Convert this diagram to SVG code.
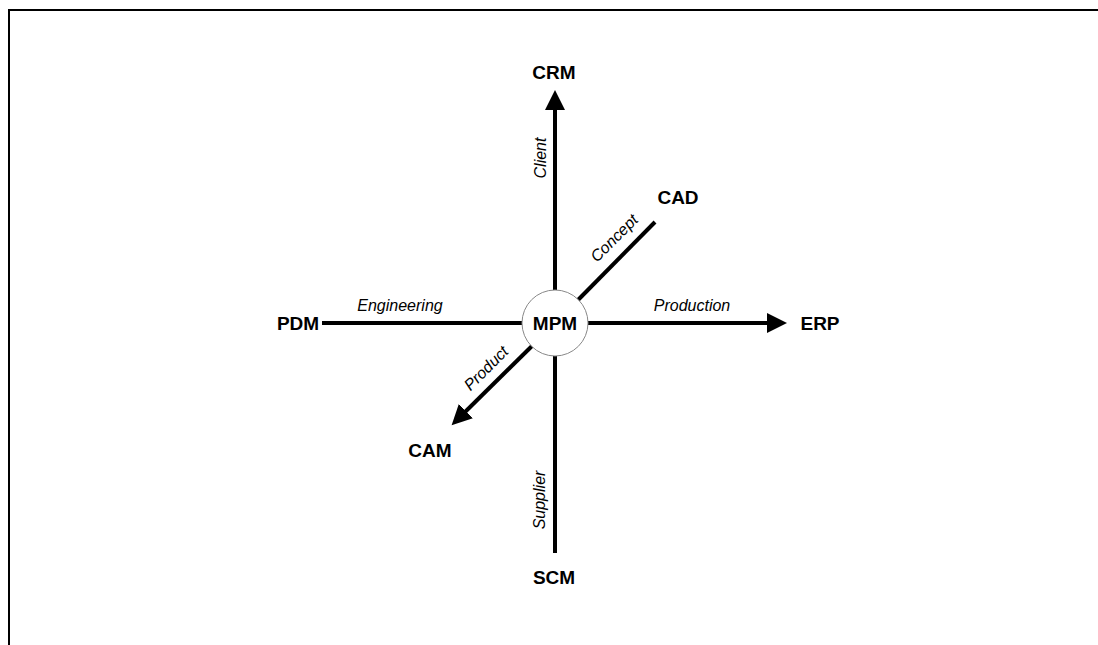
<svg xmlns="http://www.w3.org/2000/svg" width="1098" height="645" viewBox="0 0 1098 645">
  <style>
    .node { font-family: "Liberation Sans", Arial, sans-serif; font-weight: bold; font-size: 19px; fill: #000; text-anchor: middle; }
    .lbl { font-family: "Liberation Sans", Arial, sans-serif; font-style: italic; font-size: 16px; fill: #000; text-anchor: middle; }
    .axis { stroke: #000; stroke-width: 4; fill: none; }
  </style>
  <defs>
    <marker id="arrow" markerWidth="6" markerHeight="5" refX="1" refY="2.5" orient="auto" markerUnits="strokeWidth">
      <path d="M0,0 L5,2.5 L0,5 Z" fill="#000"/>
    </marker>
  </defs>
  <rect width="1098" height="645" fill="#fff"/>
  <!-- frame -->
  <path d="M9,645 V10 H1098" stroke="#000" stroke-width="2" fill="none"/>

  <g id="connectors">
    <line class="axis" x1="555" y1="290" x2="555" y2="106" marker-end="url(#arrow)"/>
    <line class="axis" x1="555" y1="356" x2="555" y2="553"/>
    <line class="axis" x1="322" y1="323" x2="522" y2="323"/>
    <line class="axis" x1="588" y1="323" x2="771" y2="323" marker-end="url(#arrow)"/>
    <line class="axis" x1="578" y1="300" x2="655" y2="222"/>
    <line class="axis" x1="532" y1="346" x2="463" y2="414" marker-end="url(#arrow)"/>
    <text class="lbl" transform="translate(546,158) rotate(-90)">Client</text>
    <text class="lbl" transform="translate(545,500) rotate(-90)">Supplier</text>
    <text class="lbl" x="400" y="311">Engineering</text>
    <text class="lbl" x="692" y="311">Production</text>
    <text class="lbl" transform="translate(618,242) rotate(-45)">Concept</text>
    <text class="lbl" transform="translate(490,372) rotate(-45)">Product</text>
  </g>

  <g id="mpm">
    <circle cx="555" cy="323" r="33" fill="#fff" stroke="#888" stroke-width="1"/>
    <text class="node" x="555" y="330">MPM</text>
  </g>
  <g id="crm"><text class="node" x="554" y="79">CRM</text></g>
  <g id="cad"><text class="node" x="678" y="204">CAD</text></g>
  <g id="pdm"><text class="node" x="298" y="330">PDM</text></g>
  <g id="erp"><text class="node" x="820" y="330">ERP</text></g>
  <g id="cam"><text class="node" x="430" y="457">CAM</text></g>
  <g id="scm"><text class="node" x="554" y="584">SCM</text></g>
</svg>
